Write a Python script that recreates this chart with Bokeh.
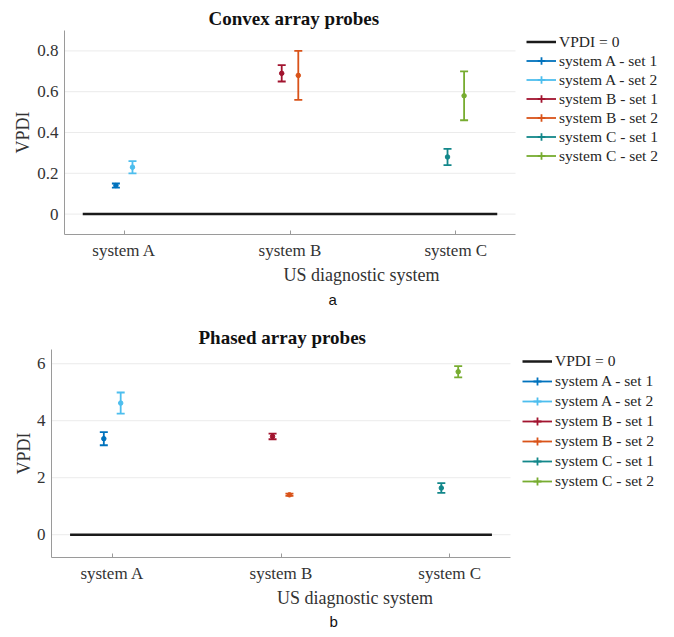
from bokeh.plotting import figure
from bokeh.layouts import column, row
from bokeh.models import FixedTicker, Legend, LegendItem, Title, Range1d
from bokeh.embed import file_html
from bokeh.resources import INLINE

# ---------------- data ----------------
systems = ["system A", "system B", "system C"]
series_labels = ["system A - set 1", "system A - set 2",
                 "system B - set 1", "system B - set 2",
                 "system C - set 1", "system C - set 2"]
series_system = [0, 0, 1, 1, 2, 2]
series_set = [1, 2, 1, 2, 1, 2]
series_colors = ["#0072BD", "#4DBEEE", "#A2142F", "#D95319", "#12878A", "#77AC30"]

convex_vpdi = [0.14, 0.23, 0.69, 0.68, 0.28, 0.58]
convex_err = [0.01, 0.03, 0.04, 0.12, 0.04, 0.12]

phased_vpdi = [3.37, 4.62, 3.45, 1.40, 1.64, 5.72]
phased_err = [0.23, 0.37, 0.10, 0.04, 0.17, 0.20]

convex_yticks = [0, 0.2, 0.4, 0.6, 0.8]
phased_yticks = [0, 2, 4, 6]

X_START, X_END = 0.64, 3.36       # visible axes extent (data units)
SET_OFFSET = 0.05
REF_HALF_SPAN = 0.25

SERIF = "Liberation Serif"
FIG_W = 658


def make_panel(title, vals, errs, yticks, yrange, fig_h, b_left, vis_w, b_top, b_bottom,
               ylab_standoff, title_offset, tag, tag_offset, tag_standoff, legend_loc,
               legend_pitch):
    frame_w = FIG_W - b_left
    x_far = X_START + frame_w * (X_END - X_START) / vis_w
    p = figure(width=FIG_W, height=fig_h, output_backend="svg", toolbar_location=None,
               x_range=Range1d(X_START, x_far), y_range=Range1d(*yrange),
               min_border_left=b_left, min_border_right=0,
               min_border_top=b_top, min_border_bottom=b_bottom)
    p.outline_line_color = None
    p.title.text = title
    p.title.align = "left"
    p.title.offset = title_offset
    p.title.text_font = SERIF
    p.title.text_font_size = "19px"
    p.title.text_font_style = "bold"
    p.title.text_color = "#111111"
    p.title.standoff = 3

    # light horizontal grid, limited to the axes box
    p.xgrid.grid_line_color = None
    p.ygrid.grid_line_color = None
    p.segment(x0=[X_START] * len(yticks), y0=yticks, x1=[X_END] * len(yticks), y1=yticks,
              line_color="#ebebeb", line_width=1)

    # reference line VPDI = 0
    pos = [i + 1 for i in range(len(systems))]
    ref = p.line(x=[pos[0] - REF_HALF_SPAN, pos[-1] + REF_HALF_SPAN], y=[0, 0],
                 line_color="#1a1a1a", line_width=2.5)
    items = [LegendItem(label="VPDI = 0", renderers=[ref])]

    for k, lab in enumerate(series_labels):
        c = series_colors[k]
        x = series_system[k] + 1 + (SET_OFFSET if series_set[k] == 2 else -SET_OFFSET)
        v, e = vals[k], errs[k]
        bar = p.segment(x0=[x], y0=[v - e], x1=[x], y1=[v + e], line_color=c, line_width=1.8)
        p.scatter(x=[x, x], y=[v - e, v + e], marker="dash", size=8,
                  line_color=c, line_width=1.8)
        p.scatter(x=[x], y=[v], marker="circle", size=4.5, fill_color=c, line_color=c)
        # legend-only glyph (vertical bar of the error-bar symbol)
        vb = p.scatter(x=[x], y=[v], marker="cross", size=12, line_color=c, line_width=1.8,
                       visible=False)
        items.append(LegendItem(label=lab, renderers=[bar, vb]))

    leg = Legend(items=items, location=legend_loc)
    leg.border_line_alpha = 0
    leg.background_fill_alpha = 0
    leg.inactive_fill_alpha = 0
    leg.padding = 0
    leg.margin = 0
    leg.glyph_width = 30
    leg.glyph_height = legend_pitch
    leg.label_height = legend_pitch
    leg.spacing = 0
    leg.label_standoff = 3
    leg.label_text_font = SERIF
    leg.label_text_font_size = "15.5px"
    leg.label_text_color = "#262626"
    leg.click_policy = "none"
    p.add_layout(leg)

    # axes
    for ax in (p.xaxis[0], p.yaxis[0]):
        ax.axis_line_color = "#9a9a9a"
        ax.major_tick_line_color = "#9a9a9a"
        ax.minor_tick_line_color = None
        ax.major_label_text_font = SERIF
        ax.major_label_text_font_size = "17px"
        ax.major_label_text_color = "#333333"
        ax.axis_label_text_font = SERIF
        ax.axis_label_text_font_size = "18px"
        ax.axis_label_text_font_style = "normal"
        ax.axis_label_text_color = "#333333"
    p.xaxis.bounds = (X_START, X_END)
    p.xaxis.ticker = FixedTicker(ticks=pos)
    p.xaxis.major_label_overrides = {pp: s for pp, s in zip(pos, systems)}
    p.xaxis.major_tick_in = 4
    p.xaxis.major_tick_out = 0
    p.xaxis.major_label_standoff = 6
    p.xaxis.axis_label = "US diagnostic system"
    p.xaxis.axis_label_standoff = 2

    p.yaxis.ticker = FixedTicker(ticks=yticks)
    p.yaxis.major_label_overrides = {t: ("0" if t == 0 else f"{t:g}") for t in yticks}
    p.yaxis.major_tick_in = 0
    p.yaxis.major_tick_out = 0
    p.yaxis.major_label_standoff = 6
    p.yaxis.axis_label = "VPDI"
    p.yaxis.axis_label_standoff = ylab_standoff

    p.add_layout(Title(text=tag, align="left", offset=tag_offset, text_font="Liberation Sans",
                       text_font_size="15px", text_font_style="normal",
                       text_color="#111111", standoff=tag_standoff), "below")
    return p


p1 = make_panel("Convex array probes", convex_vpdi, convex_err, convex_yticks, (-0.1, 0.9),
                310, 64, 451, 30, 76, 1, 144, "a", 264, 2, (462, 69), 19)
p2 = make_panel("Phased array probes", phased_vpdi, phased_err, phased_yticks, (-0.8, 6.5),
                319, 51, 459, 39, 71, 0, 147, "b", 278, 0, (471, 66), 20)

layout = column(row(p1), row(p2), spacing=0)
open("out.html", "w").write(file_html(layout, INLINE))
